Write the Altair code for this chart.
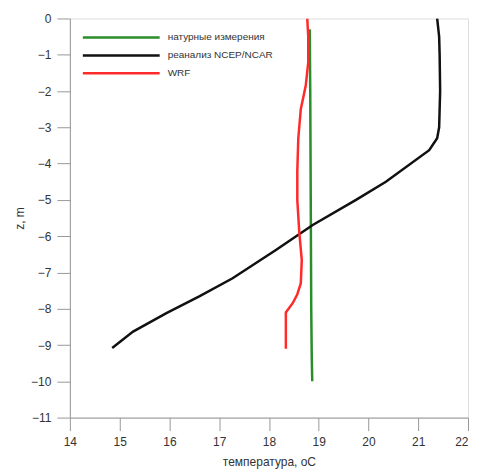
import altair as alt
import pandas as pd

# ---- data ----
series_names = ["натурные измерения", "реанализ NCEP/NCAR", "WRF"]
series_colors = ["#2a8c2a", "#111111", "#ff2a2a"]

obs_z = [-0.3, -2.0, -5.0, -8.0, -9.3, -10.0]
obs_t = [18.82, 18.83, 18.84, 18.85, 18.86, 18.87]

ncep_z = [0.0, -0.5, -1.0, -2.0, -3.0, -3.3, -3.63, -4.5, -5.0, -5.69, -6.38, -7.16, -7.66, -8.12, -8.63, -9.08]
ncep_t = [21.38, 21.42, 21.43, 21.44, 21.42, 21.38, 21.22, 20.35, 19.75, 18.88, 18.14, 17.27, 16.6, 15.94, 15.27, 14.85]

wrf_z = [0.0, -0.5, -1.2, -1.85, -2.5, -3.3, -4.2, -5.0, -5.9, -6.66, -7.3, -7.6, -7.84, -8.1, -9.1]
wrf_t = [18.77, 18.79, 18.79, 18.74, 18.64, 18.59, 18.57, 18.57, 18.61, 18.66, 18.64, 18.57, 18.48, 18.34, 18.34]

x_ticks = [14, 15, 16, 17, 18, 19, 20, 21, 22]
y_ticks = [0, -1, -2, -3, -4, -5, -6, -7, -8, -9, -10, -11]

rows = []
for name, zs, ts in [(series_names[0], obs_z, obs_t),
                     (series_names[1], ncep_z, ncep_t),
                     (series_names[2], wrf_z, wrf_t)]:
    for i, (z, t) in enumerate(zip(zs, ts)):
        rows.append({"series": name, "z": z, "t": t, "idx": i})
df = pd.DataFrame(rows)

x_vals = [v / 2 for v in range(28, 45)]
y_vals = [-v / 2 for v in range(0, 23)]

FONT = "Liberation Sans"
TXT = "#333333"

x_axis = alt.Axis(
    values=x_vals, format="d",
    labelExpr="datum.value % 1 === 0 ? datum.label : ''",
    tickSize={"condition": {"test": "datum.value % 1 === 0", "value": 13}, "value": 7},
    labelAlign={"condition": {"test": "datum.value === 22", "value": "right"}, "value": "center"},
    grid=False, title="температура, оС", titleFont=FONT, titleFontSize=12,
    titleFontWeight="normal", titleColor=TXT, titlePadding=9,
    labelFont=FONT, labelFontSize=12, labelColor=TXT, labelPadding=6,
    domainColor="#999999", tickColor="#999999", labelFlush=False,
)
y_axis = alt.Axis(
    values=y_vals, format="d",
    labelExpr="datum.value % 1 === 0 ? datum.label : ''",
    tickSize={"condition": {"test": "datum.value % 1 === 0", "value": 13}, "value": 7},
    grid=False, title="z, m", titleFont=FONT, titleFontSize=12,
    titleFontWeight="normal", titleColor=TXT, titlePadding=4,
    labelFont=FONT, labelFontSize=12, labelColor=TXT, labelPadding=6,
    domainColor="#999999", tickColor="#999999", labelFlush=False,
)

lines = alt.Chart(df).mark_line(strokeWidth=2.5, clip=True).encode(
    x=alt.X("t:Q", scale=alt.Scale(domain=[14, 22], nice=False, zero=False), axis=x_axis),
    y=alt.Y("z:Q", scale=alt.Scale(domain=[-11, 0], nice=False, zero=False), axis=y_axis),
    color=alt.Color("series:N", scale=alt.Scale(domain=series_names, range=series_colors), legend=None),
    detail="series:N",
    order="idx:Q",
)

legend_layers = []
for i, (name, col) in enumerate(zip(series_names, series_colors)):
    yy = 19 + 18 * i
    leg_df = pd.DataFrame({"name": [name]})
    legend_layers.append(
        alt.Chart(leg_df).mark_rule(color=col, strokeWidth=2.5).encode(
            x=alt.value(13), x2=alt.value(90), y=alt.value(yy)
        )
    )
    legend_layers.append(
        alt.Chart(leg_df).mark_text(align="left", baseline="middle", font=FONT,
                                    fontSize=10, color=TXT).encode(
            x=alt.value(98), y=alt.value(yy), text="name:N"
        )
    )

chart = alt.layer(lines, *legend_layers).properties(
    width=399, height=400,
    padding={"left": 62, "top": 10, "right": 4, "bottom": 56},
    autosize=alt.AutoSizeParams(type="none"),
).configure_view(stroke=None).configure(background="white")

chart.save("out.html", embed_options={"renderer": "svg", "actions": False})
